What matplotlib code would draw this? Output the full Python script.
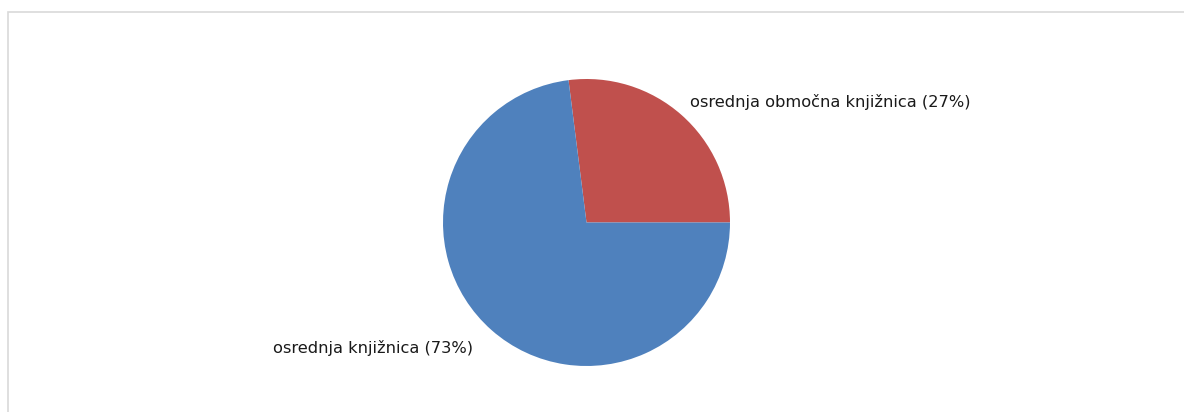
import matplotlib.pyplot as plt
from matplotlib.patches import Rectangle

labels = ['osrednja območna knjižnica (27%)', 'osrednja knjižnica (73%)']
shares = [27, 73]
colors = ['#C0504D', '#4F81BD']

W, H = 1184, 412
fig = plt.figure(figsize=(W / 100, H / 100), dpi=100)

# light grey chart frame, cut off at right and bottom like the screenshot
fig.patches.append(Rectangle((8 / W, -0.1), 1.2, (H - 12) / H + 0.1,
                             transform=fig.transFigure, fill=False,
                             edgecolor='#d9d9d9', linewidth=1.2))

cx, cy, r = 586.5, H - 222.5, 143.5
ax = fig.add_axes([(cx - r) / W, (cy - r) / H, 2 * r / W, 2 * r / H])
wedges, texts = ax.pie(shares, labels=labels, colors=colors, startangle=0,
                       counterclock=True, labeldistance=1.11,
                       textprops={'fontsize': 11.7, 'color': '#1a1a1a'},
                       wedgeprops={'linewidth': 0})
# small nudge so the labels sit where the original ones do
x, y = texts[0].get_position()
texts[0].set_position((x - 0.01, y + 0.01))
x, y = texts[1].get_position()
texts[1].set_position((x - 0.055, y - 0.045))
ax.set_xlim(-1, 1)
ax.set_ylim(-1, 1)
ax.set_aspect('equal')
ax.axis('off')

fig.savefig('out.png', dpi=100)
